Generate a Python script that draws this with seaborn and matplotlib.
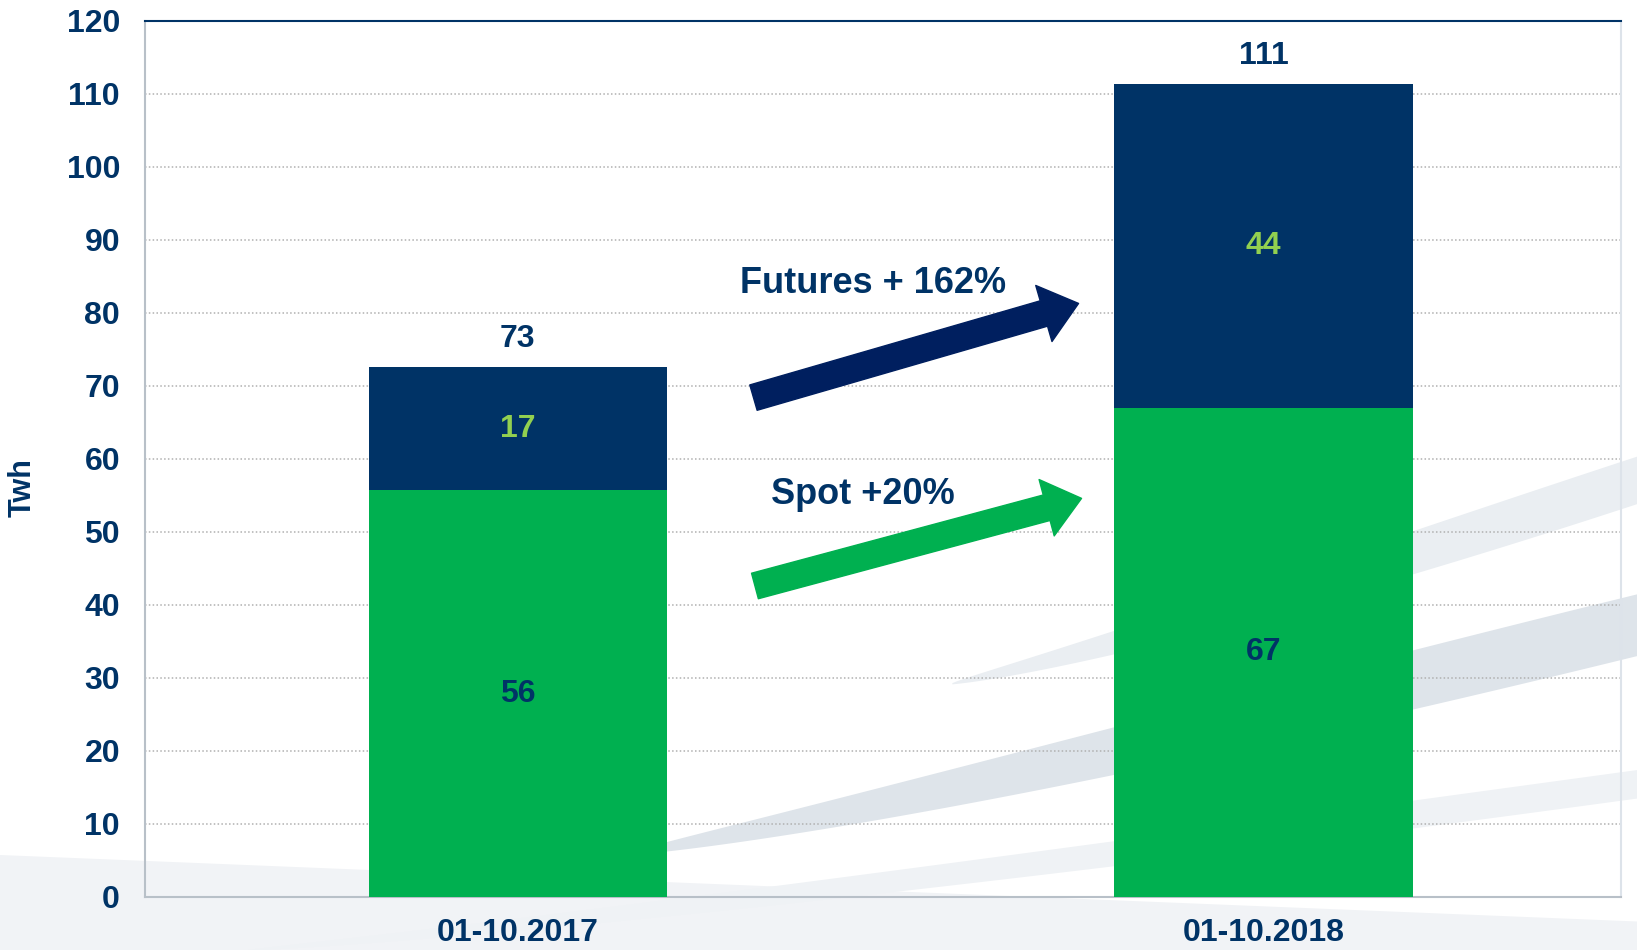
import numpy as np
import pandas as pd
import matplotlib
matplotlib.use("Agg")
import matplotlib.pyplot as plt
import seaborn as sns

# data (TWh)
periods = ["01-10.2017", "01-10.2018"]
spot = [55.7, 67.0]
futures = [16.9, 44.4]
totals = [73, 111]
spot_labels = ["56", "67"]
futures_labels = ["17", "44"]

NAVY = "#003366"
GREEN = "#00B050"
LIGHT_GREEN = "#92D050"
ARROW_NAVY = "#001F5F"

sns.set_theme(style="white")
plt.rcParams["font.family"] = ["Liberation Sans", "DejaVu Sans"]
plt.rcParams["font.weight"] = "bold"

df = pd.DataFrame({"period": periods, "spot": spot, "futures": futures})

fig = plt.figure(figsize=(16.37, 9.5), dpi=100)
fig.patch.set_facecolor("white")

# faint background swoosh (decoration only)
bg = fig.add_axes([0, 0, 1, 1], zorder=0)
bg.set_xlim(0, 1)
bg.set_ylim(0, 1)
bg.axis("off")
xs = np.linspace(0, 1, 400)
bg.fill_between(xs, 0, 0.10 - 0.07 * xs, color="#f1f3f6", lw=0)
bands = [
    # start x, y at start, y at right edge, max thickness, colour
    (0.38, 0.10, 0.31, 0.065, "#dee4ea"),
    (0.58, 0.28, 0.47, 0.05, "#eaeef2"),
    (0.15, 0.00, 0.16, 0.03, "#eff2f5"),
]
for x0, y0, y1, th, c in bands:
    xx = xs[xs >= x0]
    t = (xx - x0) / (1 - x0)
    lower = y0 + (y1 - y0) * t ** 1.25
    bg.fill_between(xx, lower, lower + th * np.sin(np.pi * t / 2) ** 0.7,
                    color=c, lw=0)

ax = fig.add_axes([0.0886, 0.0558, 0.9014, 0.9222], zorder=1)
ax.set_facecolor("none")

sns.barplot(data=df, x="period", y="spot", color=GREEN, width=0.4,
            saturation=1, linewidth=0, ax=ax, zorder=3)
sns.barplot(data=df, x="period", y="futures", bottom=df["spot"], color=NAVY,
            width=0.4, saturation=1, linewidth=0, ax=ax, zorder=3)

ax.set_ylim(0, 120)
ax.set_xlim(-0.5, 1.479)
ax.set_yticks(range(0, 121, 10))
ax.yaxis.grid(True, linestyle=(0, (1, 1.5)), color="#b0b0b0", linewidth=1.1, zorder=0)
ax.set_axisbelow(True)

for s in ["left", "bottom", "right"]:
    ax.spines[s].set_color("#b8c0c8")
    ax.spines[s].set_linewidth(1.5)
ax.spines["right"].set_color("#dde3ea")
ax.spines["top"].set_color(NAVY)
ax.spines["top"].set_linewidth(1.5)

ax.tick_params(axis="y", length=8, width=1.5, color="#b8c0c8", labelsize=23,
               labelcolor=NAVY, pad=10)
ax.tick_params(axis="x", length=0, labelsize=23, labelcolor=NAVY, pad=15)
for lab in ax.get_xticklabels() + ax.get_yticklabels():
    lab.set_fontweight("bold")
ax.set_xlabel("")
ax.set_ylabel("Twh", fontsize=22, color=NAVY, fontweight="bold")
ax.yaxis.set_label_coords(-0.073, 0.467)

for i in range(len(periods)):
    ax.text(i, spot[i] / 2, spot_labels[i], ha="center", va="center",
            fontsize=23, color=NAVY, fontweight="bold", zorder=5)
    ax.text(i, spot[i] + futures[i] / 2, futures_labels[i], ha="center",
            va="center", fontsize=23, color=LIGHT_GREEN, fontweight="bold", zorder=5)
    ax.text(i, spot[i] + futures[i] + 3.8, str(totals[i]), ha="center",
            va="center", fontsize=23, color=NAVY, fontweight="bold", zorder=5)

# growth arrows
style = "simple,head_length=1.3,head_width=2.1,tail_width=0.95"
ax.annotate("", xy=(0.752, 81.3), xytext=(0.316, 68.4),
            arrowprops=dict(arrowstyle=style, mutation_scale=20, color=ARROW_NAVY,
                            shrinkA=0, shrinkB=0), zorder=4)
ax.annotate("", xy=(0.756, 54.6), xytext=(0.318, 42.6),
            arrowprops=dict(arrowstyle=style, mutation_scale=20, color=GREEN,
                            shrinkA=0, shrinkB=0), zorder=4)
ax.text(0.477, 84.0, "Futures + 162%", ha="center", va="center", fontsize=26,
        color=NAVY, fontweight="bold", zorder=5)
ax.text(0.463, 55.1, "Spot +20%", ha="center", va="center", fontsize=26,
        color=NAVY, fontweight="bold", zorder=5)

fig.savefig("out.png", dpi=100)
